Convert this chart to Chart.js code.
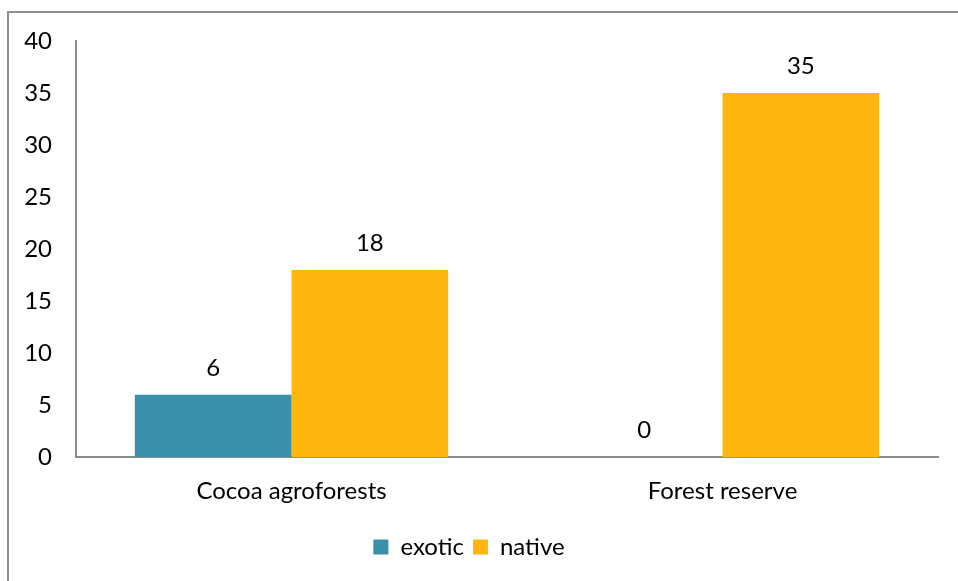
<!DOCTYPE html>
<html>
<head>
<meta charset="utf-8">
<script src="https://cdn.jsdelivr.net/npm/chart.js@4"></script>
<style>
  html, body { margin: 0; padding: 0; background: #fff; overflow: hidden; }
  #frame { position: absolute; left: 7px; top: 11px; width: 1000px; height: 700px; border: 2px solid #8f8f8f; box-sizing: border-box; }
  #chart { position: absolute; left: 0; top: 0; }
</style>
</head>
<body>
<div id="frame"></div>
<canvas id="chart" width="958" height="581"></canvas>
<script>
const categories = ['Cocoa agroforests', 'Forest reserve'];
const exoticValues = [6, 0];
const nativeValues = [18, 35];
const yTicks = [0, 5, 10, 15, 20, 25, 30, 35, 40];

const FONT = 'Lato, "Open Sans", sans-serif';

// values printed above each bar
const barLabels = {
    id: 'barLabels',
    afterDatasetsDraw(chart) {
        const ctx = chart.ctx;
        ctx.save();
        ctx.font = '24px ' + FONT;
        ctx.fillStyle = '#000';
        ctx.textAlign = 'center';
        ctx.textBaseline = 'middle';
        chart.data.datasets.forEach((ds, i) => {
            chart.getDatasetMeta(i).data.forEach((bar, j) => {
                ctx.fillText(String(ds.data[j]), bar.x, bar.y - 27);
            });
        });
        ctx.restore();
    }
};

new Chart(document.getElementById('chart').getContext('2d'), {
    type: 'bar',
    data: {
        labels: categories,
        datasets: [
            { label: 'exotic', data: exoticValues, backgroundColor: '#3990A8' },
            { label: 'native', data: nativeValues, backgroundColor: '#FFB70F' }
        ]
    },
    options: {
        responsive: false,
        animation: false,
        categoryPercentage: 0.727,
        barPercentage: 1.0,
        layout: { padding: { top: 41, right: 20, left: 0, bottom: 12 } },
        scales: {
            x: {
                grid: { display: false, drawTicks: false },
                border: { display: true, color: '#8c8c8c', width: 2 },
                ticks: { color: '#000', font: { family: FONT, size: 24 }, padding: 20 }
            },
            y: {
                min: 0,
                max: 40,
                afterBuildTicks: scale => { scale.ticks = yTicks.map(v => ({ value: v })); },
                afterFit: scale => { scale.width = 76; },
                grid: { display: false, drawTicks: false },
                border: { display: true, color: '#8c8c8c', width: 2 },
                ticks: { color: '#000', font: { family: FONT, size: 24 }, padding: 24 }
            }
        },
        plugins: {
            tooltip: { enabled: false },
            legend: {
                position: 'bottom',
                labels: {
                    color: '#000',
                    font: { family: FONT, size: 24 },
                    boxWidth: 15,
                    boxHeight: 15,
                    padding: 9
                }
            }
        }
    },
    plugins: [barLabels]
});
</script>
</body>
</html>
